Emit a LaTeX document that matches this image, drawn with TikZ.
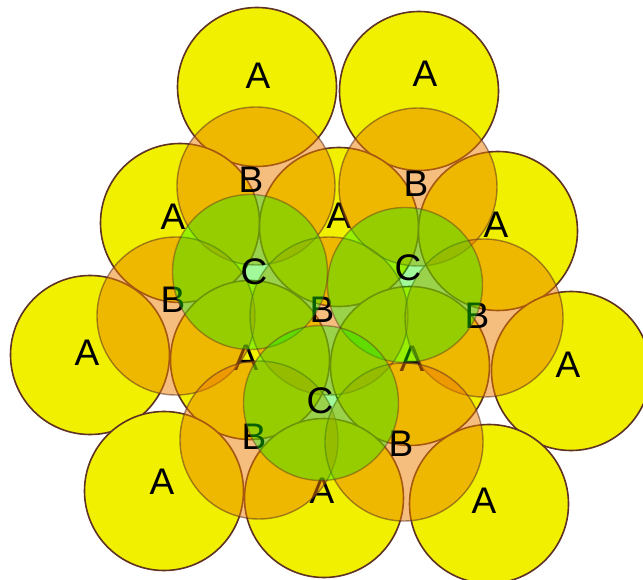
\documentclass[tikz,border=0pt]{standalone}
\usepackage{fontspec}
\setmainfont{Liberation Sans}
\definecolor{ayellow}{RGB}{240,240,0}
\definecolor{outl}{RGB}{95,50,35}
\definecolor{borange}{RGB}{237,127,0}
\definecolor{cgreen}{RGB}{20,240,0}
\begin{document}
\begin{tikzpicture}[x=1pt,y=-1pt,
  acirc/.style={fill=ayellow, draw=outl, line width=1.6pt},
  bcirc/.style={fill=borange, fill opacity=0.5, draw=outl, draw opacity=0.55, line width=1.4pt},
  ccirc/.style={fill=cgreen, fill opacity=0.4, draw=outl, draw opacity=0.45, line width=1.4pt},
  lbl/.style={font=\fontsize{37}{37}\selectfont, inner sep=0pt, text=black}]
\useasboundingbox (0,0) rectangle (643,580);
\fill[white] (0,0) rectangle (643,580);
\clip (0,0) rectangle (643,580);
% layer A
\foreach \p in {(257,87),(419,91),(180,223),(339,227),(498,231),(90,355),(250,360),(410,366),(571,371),(164,491),(324,498),(489,504)}
  \path[acirc] \p circle[radius=79.5];
\node[lbl] (la1) at (258,76) {A};
\node[lbl] (la2) at (425,74) {A};
\node[lbl] (la3) at (173,217) {A};
\node[lbl] (la4) at (339,216) {A};
\node[lbl] (la5) at (496,225) {A};
\node[lbl] (la6) at (87,353) {A};
\node[lbl] (la7) at (246,358) {A};
\node[lbl] (la8) at (412,359) {A};
\node[lbl] (la9) at (568,365) {A};
\node[lbl] (la10) at (162,482) {A};
\node[lbl] (la11) at (322,491) {A};
\node[lbl] (la12) at (484,501) {A};
% layer B
\foreach \p in {(256,186),(418,187),(176,316),(329,316),(484,318),(259,440),(404,442)}
  \path[bcirc] \p circle[radius=79];
\node[lbl] (lb1) at (251,180) {B};
\node[lbl] (lb2) at (416,184) {B};
\node[lbl] (lb3) at (173,300) {B};
\node[lbl] (lb4) at (322,310) {B};
\node[lbl] (lb5) at (477,316) {B};
\node[lbl] (lb6) at (254,437) {B};
\node[lbl] (lb7) at (401,444) {B};
% layer C
\foreach \p in {(250,272),(405,285),(321,403)}
  \path[ccirc] \p circle[radius=77.5];
\node[lbl] (lc1) at (254,272) {C};
\node[lbl] (lc2) at (408,268) {C};
\node[lbl] (lc3) at (320,401) {C};
\end{tikzpicture}
\end{document}
